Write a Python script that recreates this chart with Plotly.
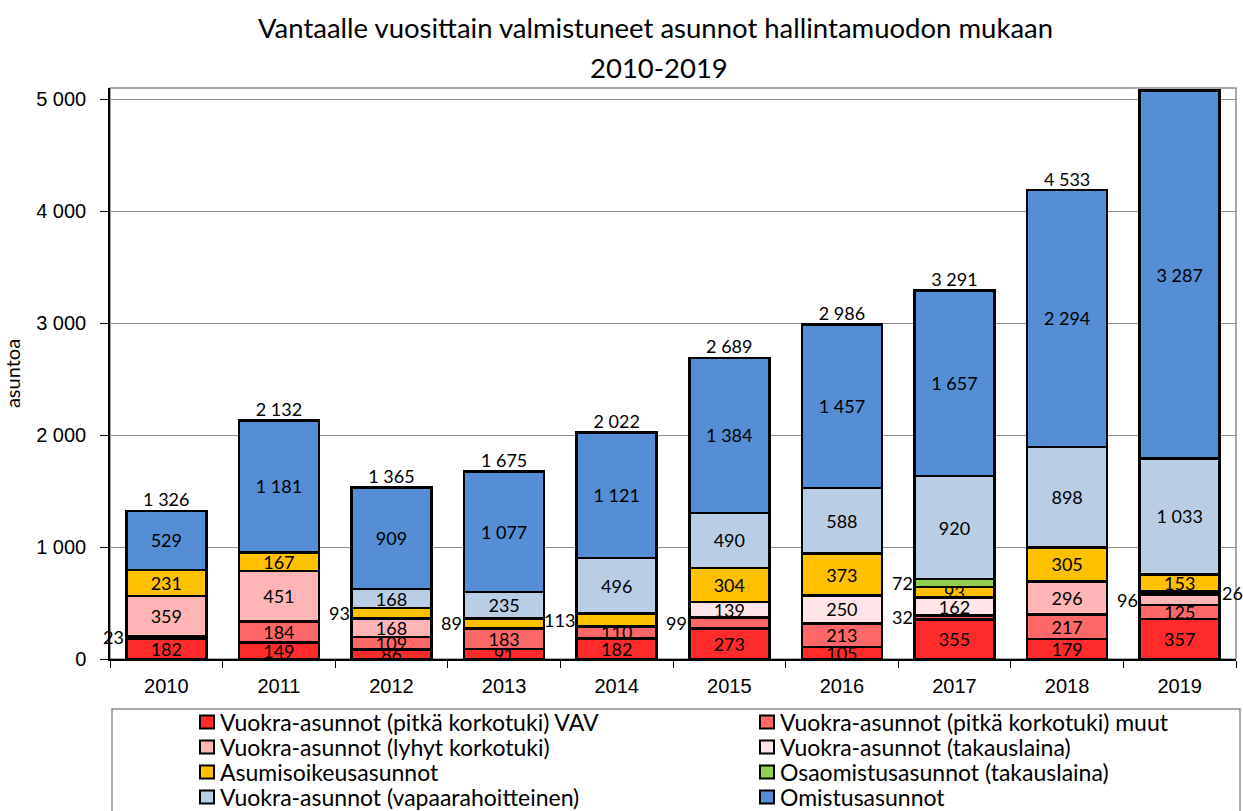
import plotly.graph_objects as go

years = ["2010", "2011", "2012", "2013", "2014", "2015", "2016", "2017", "2018", "2019"]

vav = [182, 149, 86, 91, 182, 273, 105, 355, 179, 357]
pitka_muut = [23, 184, 109, 183, 110, 99, 213, 32, 217, 125]
lyhyt = [359, 451, 168, 0, 0, 0, 0, 0, 296, 96]
takauslaina = [0, 0, 0, 0, 0, 139, 250, 162, 0, 26]
asumisoikeus = [231, 167, 93, 89, 113, 304, 373, 93, 305, 153]
osaomistus = [0, 0, 0, 0, 0, 0, 0, 72, 0, 0]
vapaarahoitteinen = [0, 0, 168, 235, 496, 490, 588, 920, 898, 1033]
omistus = [529, 1181, 909, 1077, 1121, 1384, 1457, 1657, 2294, 3287]

totals = [1326, 2132, 1365, 1675, 2022, 2689, 2986, 3291, 4533, 5077]

series = [
    ("Vuokra-asunnot (pitkä korkotuki) VAV", vav, "#FF2B2B"),
    ("Vuokra-asunnot (pitkä korkotuki) muut", pitka_muut, "#FF6868"),
    ("Vuokra-asunnot (lyhyt korkotuki)", lyhyt, "#FFB5B5"),
    ("Vuokra-asunnot (takauslaina)", takauslaina, "#FFE5E7"),
    ("Asumisoikeusasunnot", asumisoikeus, "#FFC000"),
    ("Osaomistusasunnot (takauslaina)", osaomistus, "#92D050"),
    ("Vuokra-asunnot (vapaarahoitteinen)", vapaarahoitteinen, "#B9CDE5"),
    ("Omistusasunnot", omistus, "#558ED5"),
]

# labels that Excel pushed beside the bar (series index, year index) -> side
beside = {(1, 0): "left", (4, 2): "left", (4, 3): "left", (4, 4): "left",
          (1, 5): "left", (1, 7): "left", (5, 7): "left", (2, 9): "left",
          (3, 9): "right"}

W, H = 1243, 811
L, R, T, B = 110, 7, 88, 152
pw, ph = W - L - R, H - T - B


def px(x):
    return (x - L) / pw


def py(y):
    return (H - B - y) / ph


def fmt(v):
    return f"{v:,}".replace(",", " ")


LABEL_FONT = dict(family="Lato", size=18, color="black")
bar_half = 0.355

fig = go.Figure()
annotations = []
base = [0] * len(years)
for s, (name, vals, color) in enumerate(series):
    texts = []
    for i, v in enumerate(vals):
        side = beside.get((s, i))
        texts.append("" if (v == 0 or side) else fmt(v))
        if side and v:
            annotations.append(dict(
                x=i - bar_half if side == "left" else i + bar_half,
                y=base[i] + v / 2, xref="x", yref="y", text=fmt(v),
                showarrow=False, font=LABEL_FONT, yanchor="middle",
                xanchor="right" if side == "left" else "left"))
    fig.add_trace(go.Bar(
        name=name, x=years, y=[v if v else None for v in vals],
        marker=dict(color=color, line=dict(color="black", width=2.5)),
        text=texts, textposition="inside", insidetextanchor="middle",
        constraintext="none", textfont=LABEL_FONT, textangle=0,
        hoverinfo="skip", showlegend=False))
    base = [b + v for b, v in zip(base, vals)]

fig.add_trace(go.Scatter(
    x=years, y=base, mode="text", text=[fmt(t) for t in totals],
    textposition="top center", textfont=LABEL_FONT, showlegend=False,
    hoverinfo="skip"))

# title, two lines
TITLE_FONT = dict(family="Lato", size=27.5, color="black")
annotations.append(dict(
    text="Vantaalle vuosittain valmistuneet asunnot hallintamuodon mukaan",
    x=px(655), y=py(28), xref="paper", yref="paper", showarrow=False,
    xanchor="center", yanchor="middle", font=TITLE_FONT))
annotations.append(dict(
    text="2010-2019", x=px(659), y=py(67), xref="paper", yref="paper",
    showarrow=False, xanchor="center", yanchor="middle", font=TITLE_FONT))

shapes = [
    dict(type="rect", xref="paper", yref="paper", x0=0, x1=1, y0=0, y1=1,
         line=dict(color="#8C8C8C", width=1.5), layer="below"),
    dict(type="rect", xref="paper", yref="paper", x0=px(112), x1=px(1240),
         y0=py(709), y1=py(830), line=dict(color="#8C8C8C", width=1.5)),
]

# legend box drawn by hand: two columns, row-wise order like Excel
col_x = [200, 760]
row_y = [722, 747, 772, 797]
for s, (name, vals, color) in enumerate(series):
    cx, cy = col_x[s % 2], row_y[s // 2]
    shapes.append(dict(type="rect", xref="paper", yref="paper",
                       x0=px(cx), x1=px(cx + 14), y0=py(cy - 6.5), y1=py(cy + 6.5),
                       fillcolor=color, line=dict(color="black", width=2)))
    annotations.append(dict(text=name, x=px(cx + 18), y=py(cy), xref="paper",
                            yref="paper", xanchor="left", yanchor="middle",
                            showarrow=False,
                            font=dict(family="Lato", size=23, color="black")))

fig.update_layout(
    width=W, height=H,
    margin=dict(l=L, r=R, t=T, b=B),
    barmode="stack", bargap=0.29,
    separators=", ",
    plot_bgcolor="white", paper_bgcolor="white",
    font=dict(family="Liberation Sans", size=20, color="black"),
    showlegend=False,
    annotations=annotations,
    shapes=shapes,
)
fig.update_xaxes(
    type="category", range=[-0.5, len(years) - 0.5],
    ticks="outside", tickson="boundaries", ticklen=7,
    tickcolor="black", showline=True, linecolor="black", linewidth=1.5,
    ticklabelstandoff=8, automargin=False,
    tickfont=dict(family="Liberation Sans", size=20))
fig.update_yaxes(
    range=[0, 5100], dtick=1000, tickformat=",d", ticks="outside", ticklen=8,
    tickcolor="black", showline=True, linecolor="black", linewidth=1.5,
    showgrid=True, gridcolor="#8C8C8C", gridwidth=1, zeroline=False,
    ticklabelstandoff=10, automargin=False,
    tickfont=dict(family="Liberation Sans", size=20),
    title=dict(text="asuntoa", font=dict(family="Lato", size=20), standoff=10))

# drop the browser's default 8px page margin so the figure sits at 0,0
fig.write_html("out.html", config={"displayModeBar": False},
               post_script="document.body.style.margin='0';")
